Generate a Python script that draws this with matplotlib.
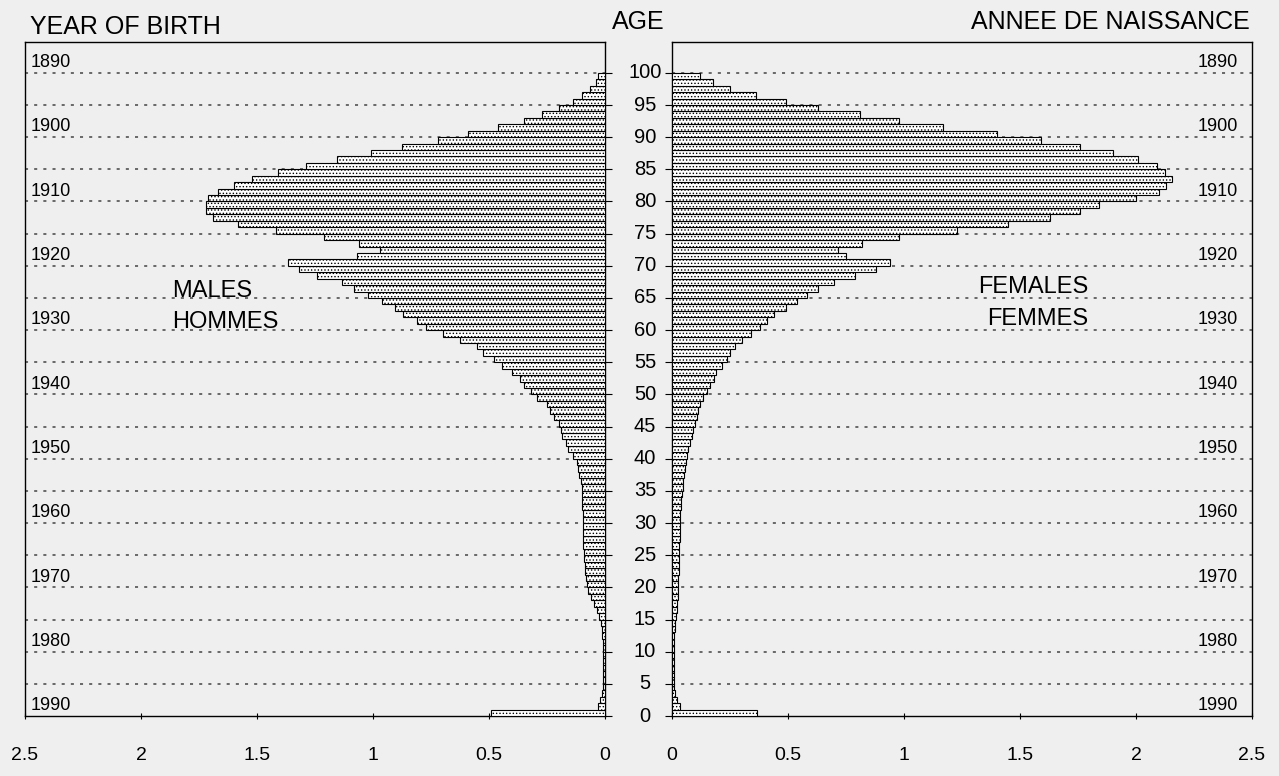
import numpy as np
import matplotlib
matplotlib.use('Agg')
import matplotlib.pyplot as plt

plt.rcParams['font.family'] = ['Liberation Sans', 'DejaVu Sans']
plt.rcParams['hatch.linewidth'] = 0.6

# single years of age 0..99 (one bar per year)
ages = np.arange(0, 100)

males = [
    0.49, 0.03, 0.02, 0.012, 0.010, 0.009, 0.008, 0.008, 0.008, 0.009,
    0.010, 0.010, 0.012, 0.013, 0.016, 0.026, 0.036, 0.047, 0.062, 0.072,
    0.079, 0.083, 0.086, 0.088, 0.090, 0.092, 0.093, 0.094, 0.094, 0.095,
    0.095, 0.096, 0.097, 0.098, 0.099, 0.100, 0.105, 0.110, 0.115, 0.120,
    0.140, 0.160, 0.170, 0.185, 0.190, 0.200, 0.220, 0.235, 0.250, 0.295,
    0.320, 0.350, 0.365, 0.400, 0.445, 0.480, 0.525, 0.550, 0.625, 0.700,
    0.770, 0.810, 0.870, 0.905, 0.960, 1.020, 1.080, 1.135, 1.240, 1.320,
    1.365, 1.070, 0.970, 1.060, 1.210, 1.420, 1.580, 1.690, 1.720, 1.720,
    1.710, 1.670, 1.600, 1.520, 1.410, 1.290, 1.155, 1.010, 0.875, 0.720,
    0.590, 0.460, 0.350, 0.270, 0.200, 0.140, 0.100, 0.065, 0.040, 0.030,
]

females = [
    0.365, 0.035, 0.020, 0.012, 0.010, 0.009, 0.008, 0.008, 0.008, 0.008,
    0.009, 0.009, 0.010, 0.011, 0.013, 0.017, 0.020, 0.022, 0.025, 0.026,
    0.027, 0.028, 0.029, 0.030, 0.031, 0.031, 0.032, 0.033, 0.033, 0.034,
    0.035, 0.035, 0.037, 0.039, 0.042, 0.046, 0.048, 0.052, 0.056, 0.060,
    0.066, 0.070, 0.078, 0.085, 0.091, 0.100, 0.106, 0.113, 0.120, 0.135,
    0.150, 0.165, 0.180, 0.190, 0.215, 0.235, 0.250, 0.270, 0.300, 0.340,
    0.380, 0.410, 0.440, 0.490, 0.540, 0.580, 0.630, 0.700, 0.790, 0.880,
    0.940, 0.750, 0.715, 0.820, 0.980, 1.230, 1.450, 1.630, 1.760, 1.840,
    2.000, 2.100, 2.130, 2.155, 2.125, 2.090, 2.010, 1.900, 1.760, 1.590,
    1.400, 1.170, 0.980, 0.810, 0.630, 0.490, 0.360, 0.250, 0.175, 0.120,
]

age_ticks = list(range(0, 101, 5))
birth_years = [1890, 1900, 1910, 1920, 1930, 1940, 1950, 1960, 1970, 1980, 1990]
x_ticks = [0, 0.5, 1, 1.5, 2, 2.5]
x_ticklabels = ['0', '0.5', '1', '1.5', '2', '2.5']
census_year = 1990

bg = '#efefef'
fig = plt.figure(figsize=(12.79, 7.76), dpi=100, facecolor=bg)

W, H = 1279, 776
ax_l = fig.add_axes([25 / W, 1 - 716 / H, 580 / W, 674 / H], facecolor=bg)
ax_r = fig.add_axes([672 / W, 1 - 716 / H, 580 / W, 674 / H], facecolor=bg)

ymax = 104.8
for ax, vals in ((ax_l, males), (ax_r, females)):
    ax.barh(ages, vals, height=1.0, align='edge', color='white',
            edgecolor='black', linewidth=0.8, hatch='.....', zorder=3)
    for a in age_ticks[1:]:
        ax.axhline(a, color='#444444', lw=1.1, ls=(0, (2, 4)), zorder=1)
    ax.set_ylim(0, ymax)
    ax.set_yticks(age_ticks)
    ax.set_xticks(x_ticks)
    ax.set_xticklabels(x_ticklabels, fontsize=14)
    ax.tick_params(axis='x', direction='inout', length=5, pad=20, width=0.8)
    for s in ax.spines.values():
        s.set_linewidth(1.0)

ax_l.set_xlim(2.5, 0)
ax_r.set_xlim(0, 2.5)

ax_l.yaxis.tick_right()
ax_l.tick_params(axis='y', direction='out', length=5, labelright=False)
ax_r.tick_params(axis='y', direction='out', length=5, labelleft=False)

# age labels in the gap between the panels
for a in age_ticks:
    ax_l.text(1.069, a, str(a), transform=ax_l.get_yaxis_transform(),
              ha='center', va='center', fontsize=14.5)

# year of birth labels
for yr in birth_years:
    age = census_year - yr
    ax_l.text(2.475, age + 1.6, str(yr), ha='left', va='center', fontsize=13)
    ax_r.text(2.44, age + 1.6, str(yr), ha='right', va='center', fontsize=13)

ax_l.text(1.865, 66.1, 'MALES', ha='left', va='center', fontsize=17)
ax_l.text(1.865, 61.3, 'HOMMES', ha='left', va='center', fontsize=17)
ax_r.text(1.795, 66.7, 'FEMALES', ha='right', va='center', fontsize=17)
ax_r.text(1.795, 61.7, 'FEMMES', ha='right', va='center', fontsize=17)

fig.text(30 / W, 1 - 27 / H, 'YEAR OF BIRTH', ha='left', va='center', fontsize=18)
fig.text(638 / W, 1 - 22 / H, 'AGE', ha='center', va='center', fontsize=18)
fig.text(1250 / W, 1 - 22 / H, 'ANNEE DE NAISSANCE', ha='right', va='center', fontsize=18)

fig.savefig('out.png', dpi=100, facecolor=bg)
